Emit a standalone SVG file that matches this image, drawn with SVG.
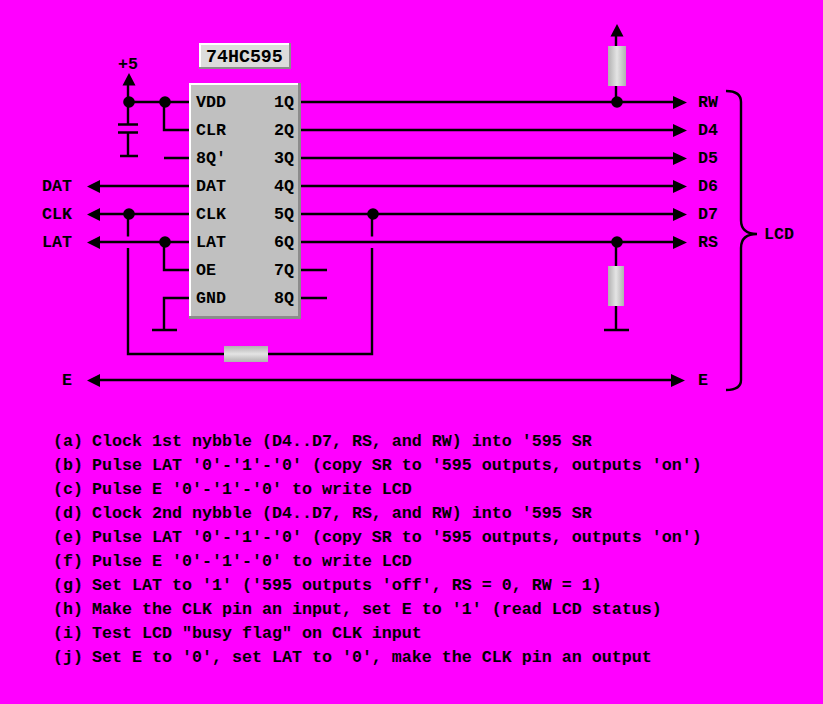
<svg xmlns="http://www.w3.org/2000/svg" width="823" height="704" viewBox="0 0 823 704">
<style>
text{font-family:"Liberation Mono","Courier New",monospace;font-weight:bold;font-size:16.67px;fill:#000}
.w{fill:none;stroke:#000;stroke-width:2.4}
.d{fill:#000}
.r{fill:url(#gv)}
.h{fill:url(#gh)}
</style>
<defs>
<linearGradient id="gv" x1="0" x2="1" y1="0" y2="0"><stop offset="0" stop-color="#b0b0b0"/><stop offset=".5" stop-color="#e4e4e4"/><stop offset="1" stop-color="#b0b0b0"/></linearGradient>
<linearGradient id="gh" x1="0" x2="0" y1="0" y2="1"><stop offset="0" stop-color="#b0b0b0"/><stop offset=".5" stop-color="#e4e4e4"/><stop offset="1" stop-color="#b0b0b0"/></linearGradient>
</defs>
<rect width="823" height="704" fill="#ff00ff"/>
<g id="connectors">
<path class="w" d="M128 85V124M128 132V156M120 156H138M118 124.500H138M118 132.500H138"/>
<path class="w" d="M128 102H189M164 102V130H189M164 158H189M100 186H189M100 214H189M100 242H189M164 242V270H189M189 298H164V330M152 330H177"/>
<path class="w" d="M128 214V236.500M128 248V354H224M268 354H372V248M372 236.500V214"/>
<path class="w" d="M301 102H674M301 130H674M301 158H674M301 186H674M301 214H674M301 242H674M301 270H327M301 298H327"/>
<path class="w" d="M616 36V46M616 86V102M616 242V266M616 306V330M604 330H629"/>
<path class="w" d="M99 380H672"/>
<path class="w" d="M726 91C735 91 741 94 741 102V220C741 229 746 234 757 234C746 234 741 239 741 248V380C741 387 735 390 726 390"/>
<path class="d" d="M135.500 85.500H122.500L129 73ZM87 186.500L100 180V193ZM87 214.500L100 208V221ZM87 242.500L100 236V249ZM87 380.500L100 374V387ZM685 380.500L671 374V387ZM623.500 36.500H610.500L617 24Z"/>
<path class="d" d="M687 102.500L673 96V109ZM687 130.500L673 124V137ZM687 158.500L673 152V165ZM687 186.500L673 180V193ZM687 214.500L673 208V221ZM687 242.500L673 236V249Z"/>
<circle class="d" cx="129" cy="102" r="5.800"/><circle class="d" cx="165" cy="102" r="5.800"/><circle class="d" cx="129" cy="214" r="5.800"/><circle class="d" cx="165" cy="242" r="5.800"/><circle class="d" cx="373" cy="214" r="5.800"/><circle class="d" cx="617" cy="102" r="5.800"/><circle class="d" cx="617" cy="242" r="5.800"/>
</g>
<g id="r-top"><rect class="r" x="608" y="46" width="18" height="40"/></g>
<g id="r-bottom"><rect class="r" x="608" y="266" width="16" height="40"/></g>
<g id="r-h"><rect class="h" x="224" y="346" width="44" height="16"/></g>
<g id="chip">
<rect x="189" y="83" width="112" height="236" fill="#fff"/>
<path d="M301 83V319H189V316H298V83Z" fill="#8c8c8c"/>
<rect x="191" y="85" width="107" height="231" fill="#c0c0c0"/>
<text x="196" y="107">VDD</text><text x="196" y="135">CLR</text><text x="196" y="163">8Q'</text><text x="196" y="191">DAT</text><text x="196" y="219">CLK</text><text x="196" y="247">LAT</text><text x="196" y="275">OE</text><text x="196" y="303">GND</text>
<text x="274" y="107">1Q</text><text x="274" y="135">2Q</text><text x="274" y="163">3Q</text><text x="274" y="191">4Q</text><text x="274" y="219">5Q</text><text x="274" y="247">6Q</text><text x="274" y="275">7Q</text><text x="274" y="303">8Q</text>
</g>
<g id="chip-title">
<rect x="199" y="43" width="92" height="26" fill="#fff"/>
<path d="M291 43V69H199V67H289V43Z" fill="#8c8c8c"/>
<rect x="201" y="45" width="88" height="22" fill="#dcdcdc"/>
<text x="206" y="62" style="font-size:18.300px">74HC595</text>
</g>
<g id="labels">
<text x="118" y="69">+5</text>
<text x="42" y="191">DAT</text><text x="42" y="219">CLK</text><text x="42" y="247">LAT</text><text x="62" y="385">E</text>
<text x="698" y="107">RW</text><text x="698" y="135">D4</text><text x="698" y="163">D5</text><text x="698" y="191">D6</text><text x="698" y="219">D7</text><text x="698" y="247">RS</text><text x="698" y="385">E</text><text x="764" y="239">LCD</text>
</g>
<g id="steps">
<text x="53" y="446">(a)</text><text x="92" y="446">Clock 1st nybble (D4..D7, RS, and RW) into '595 SR</text>
<text x="53" y="470">(b)</text><text x="92" y="470">Pulse LAT '0'-'1'-'0' (copy SR to '595 outputs, outputs 'on')</text>
<text x="53" y="494">(c)</text><text x="92" y="494">Pulse E '0'-'1'-'0' to write LCD</text>
<text x="53" y="518">(d)</text><text x="92" y="518">Clock 2nd nybble (D4..D7, RS, and RW) into '595 SR</text>
<text x="53" y="542">(e)</text><text x="92" y="542">Pulse LAT '0'-'1'-'0' (copy SR to '595 outputs, outputs 'on')</text>
<text x="53" y="566">(f)</text><text x="92" y="566">Pulse E '0'-'1'-'0' to write LCD</text>
<text x="53" y="590">(g)</text><text x="92" y="590">Set LAT to '1' ('595 outputs 'off', RS = 0, RW = 1)</text>
<text x="53" y="614">(h)</text><text x="92" y="614">Make the CLK pin an input, set E to '1' (read LCD status)</text>
<text x="53" y="638">(i)</text><text x="92" y="638">Test LCD "busy flag" on CLK input</text>
<text x="53" y="662">(j)</text><text x="92" y="662">Set E to '0', set LAT to '0', make the CLK pin an output</text>
</g>
</svg>
